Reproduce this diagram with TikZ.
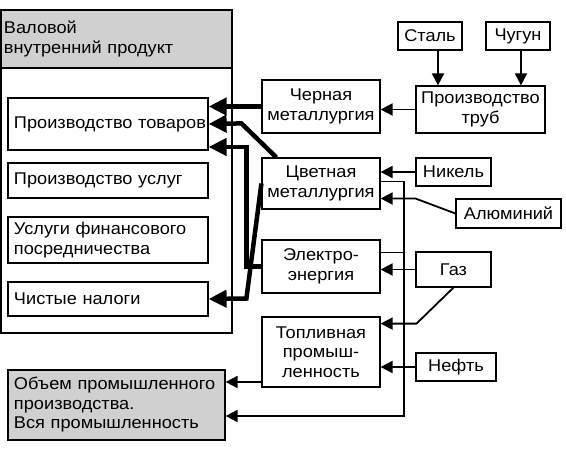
\documentclass[tikz,border=0pt]{standalone}
\usepackage{fontspec}
\setmainfont{Liberation Sans}[FakeStretch=1.07, WordSpace=1.6]
\usepackage{tikz}
\usetikzlibrary{arrows.meta,positioning,calc}
\usepackage{xcolor}
\definecolor{headgray}{RGB}{208,208,208}
\newcommand{\ind}{\hspace*{5pt}}

\begin{document}
\begin{tikzpicture}[x=1pt, y=-1pt, font=\fontsize{17}{19.5}\selectfont,
    lbox/.style={rectangle, draw, line width=1.2pt, inner xsep=1pt, inner ysep=0pt,
                 text width=198pt, align=left},
    rbox/.style={rectangle, draw, line width=1.2pt, inner sep=1pt, align=center},
    fat/.style={line width=4.5pt, -{Triangle[length=18pt,width=17pt]}},
    arr/.style={line width=1.8pt, -{Triangle[length=12pt,width=12pt]}}]
\useasboundingbox (0,0) rectangle (566,450);

% GDP panel
\node[rectangle, draw, line width=1.2pt, minimum width=231pt, minimum height=323pt] (gdp) at (116.5,171.5) {};
\node[rectangle, draw, line width=1.2pt, fill=headgray, anchor=north west, inner xsep=3pt,
      text width=225pt, minimum height=58pt, align=left] (gdphead) at (gdp.north west)
      {Валовой\\внутренний  продукт};
\node[lbox, minimum height=52pt] (goods) at (108,124) {\ind Производство  товаров};
\node[lbox, minimum height=35pt] (services) at (108,180.5) {\ind Производство  услуг};
\node[lbox, minimum height=46pt] (finance) at (108,240) {\ind Услуги  финансового\\\ind посредничества};
\node[lbox, minimum height=34pt] (taxes) at (108,299) {\ind Чистые  налоги};
\node[lbox, fill=headgray, text width=215pt, minimum height=70pt] (industry) at (116.5,405)
      {\ind Объем  промышленного\\\ind производства.\\\ind Вся  промышленность};

% branches
\node[rbox, minimum width=118pt, minimum height=53pt] (ferrous) at (321,106.5) {Черная\\металлургия};
\node[rbox, minimum width=118pt, minimum height=51pt] (nonferrous) at (321,183.5) {Цветная\\металлургия};
\node[rbox, minimum width=118pt, minimum height=53pt] (power) at (321,266.5) {Электро-\\энергия};
\node[rbox, minimum width=118pt, minimum height=70pt] (fuel) at (321,352) {Топливная\\промыш-\\ленность};

% inputs
\node[rbox, minimum width=129pt, minimum height=47pt] (pipes) at (480.5,109.5) {Производство\\труб};
\node[rbox, minimum width=64pt, minimum height=28pt] (steel) at (430,36) {Сталь};
\node[rbox, minimum width=64pt, minimum height=28pt] (iron) at (518,36) {Чугун};
\node[rbox, minimum width=75pt, minimum height=28pt] (nickel) at (453.5,172) {Никель};
\node[rbox, minimum width=105pt, minimum height=29pt] (aluminium) at (508.5,213.5) {Алюминий};
\node[rbox, minimum width=75pt, minimum height=35pt] (gas) at (453.5,269.5) {Газ};
\node[rbox, minimum width=80pt, minimum height=28pt] (oil) at (456,367) {Нефть};

% thin links
\draw[arr] ([xshift=8pt]steel.south) -- ([xshift=8pt]steel.south |- pipes.north);
\draw[arr] ([xshift=3pt]iron.south) -- ([xshift=3pt]iron.south |- pipes.north);
\draw[arr] (pipes.west) -- (pipes.west -| ferrous.east);
\draw[arr] (nickel.west) -- (nickel.west -| nonferrous.east);
\draw[arr] (aluminium.west) -- ++(-40,-15) coordinate (al) -- (al -| nonferrous.east);
\draw[arr] (gas.west) -- (gas.west -| power.east);
\draw[arr] (gas.south) -- ++(-37,36) coordinate (gs) -- (gs -| fuel.east);
\draw[arr] (oil.west) -- (oil.west -| fuel.east);
\draw[arr] ([yshift=-30pt]fuel.west) -- ([yshift=-30pt]fuel.west -| industry.east);
\draw[arr] ([yshift=2pt]nonferrous.east) -- ++(23,0) coordinate (loop) |- ([yshift=-11pt]industry.east);
\draw[line width=1.2pt] ([yshift=14pt]power.east) -- ([yshift=14pt]power.east -| loop);

% thick links to GDP
\draw[fat] (ferrous.west) -- (ferrous.west -| goods.east);
\draw[fat] ([xshift=15pt]nonferrous.north west) -- ++(-35,-34) -- (goods.east);
\draw[fat] (power.west) -- ++(-15,0) |- ([yshift=-23pt]goods.east);
\draw[fat] (nonferrous.west) -- ++(-15,115) -- (taxes.east);
\end{tikzpicture}
\end{document}
